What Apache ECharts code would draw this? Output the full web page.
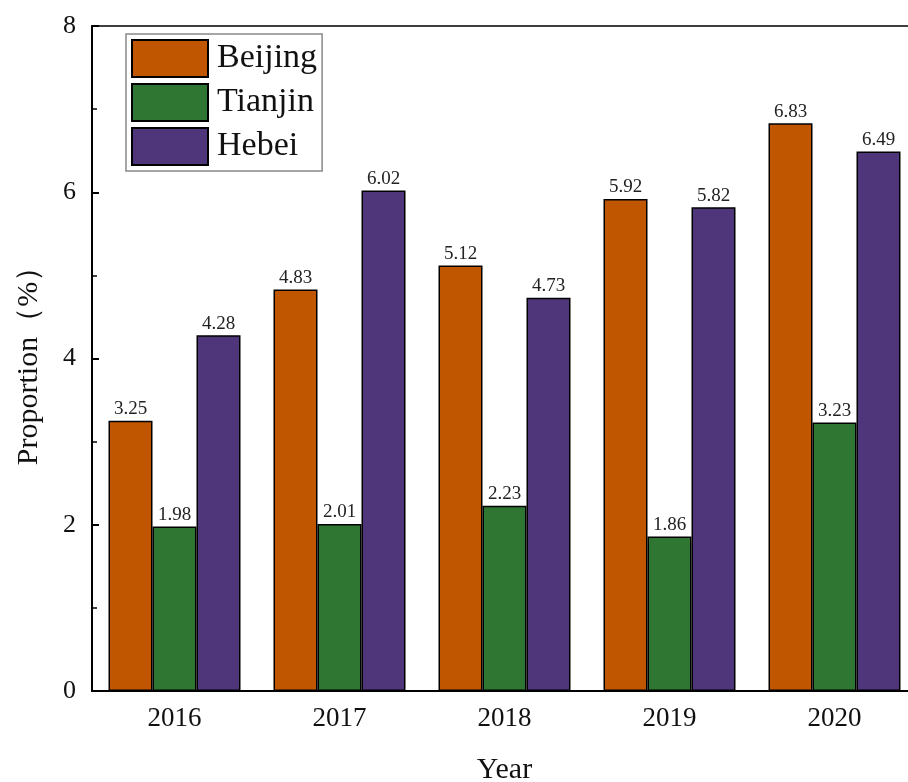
<!DOCTYPE html>
<html><head><meta charset="utf-8">
<script src="https://cdn.jsdelivr.net/npm/echarts@6/dist/echarts.min.js"></script>
<style>html,body{margin:0;padding:0;background:#fff}#c{width:908px;height:782px}</style>
</head><body><div id="c"></div>
<script>
const years = ['2016','2017','2018','2019','2020'];
const beijing = [3.25, 4.83, 5.12, 5.92, 6.83];
const tianjin = [1.98, 2.01, 2.23, 1.86, 3.23];
const hebei = [4.28, 6.02, 4.73, 5.82, 6.49];
const seriesNames = ['Beijing','Tianjin','Hebei'];
const colors = ['#C05600','#2E7631','#4F3579'];
const font = 'Liberation Serif, Times New Roman, serif';
const chart = echarts.init(document.getElementById('c'));
function mk(name, data, color){
  return {
    name, type:'bar', data, barWidth:44, barGap:'0%',
    itemStyle:{color, borderColor:'#000', borderWidth:1.5},
    label:{show:true, position:'top', distance:2, color:'#222', fontFamily:font, fontSize:19,
      formatter:p=>p.value.toFixed(2)}
  };
}
chart.setOption({
  animation:false,
  backgroundColor:'#fff',
  grid:{left:92, right:-9, top:26, bottom:91, show:true, borderColor:'#000', borderWidth:1.5,
    containLabel:false, outerBoundsMode:'none'},
  legend:{
    orient:'vertical', left:126, top:34, padding:[5,5,5,5], itemGap:5, icon:'rect',
    itemWidth:76, itemHeight:37, backgroundColor:'#fff', borderColor:'#888', borderWidth:1.5,
    textStyle:{fontFamily:font, fontSize:34, color:'#111', padding:[0,0,0,4]},
    data:seriesNames
  },
  xAxis:{
    type:'category', data:years, name:'Year', nameLocation:'middle', nameGap:64,
    nameTextStyle:{fontFamily:font, fontSize:30, color:'#111'},
    axisLine:{lineStyle:{color:'#000', width:2}},
    axisTick:{inside:true, length:6, lineStyle:{color:'#000', width:2}},
    axisLabel:{fontFamily:font, fontSize:27, color:'#111', margin:14}
  },
  yAxis:{
    type:'value', min:0, max:8, interval:2, name:'Proportion（%）', nameLocation:'middle', nameGap:48,
    nameTextStyle:{fontFamily:font, fontSize:30, color:'#111'},
    axisLine:{show:true, lineStyle:{color:'#000', width:2}},
    axisTick:{show:true, inside:true, length:7, lineStyle:{color:'#000', width:2}},
    minorTick:{show:true, splitNumber:2, length:5, lineStyle:{color:'#000', width:1.5}},
    splitLine:{show:false},
    axisLabel:{fontFamily:font, fontSize:26, color:'#111', margin:16}
  },
  series:[mk('Beijing',beijing,colors[0]), mk('Tianjin',tianjin,colors[1]), mk('Hebei',hebei,colors[2])]
});
</script></body></html>
